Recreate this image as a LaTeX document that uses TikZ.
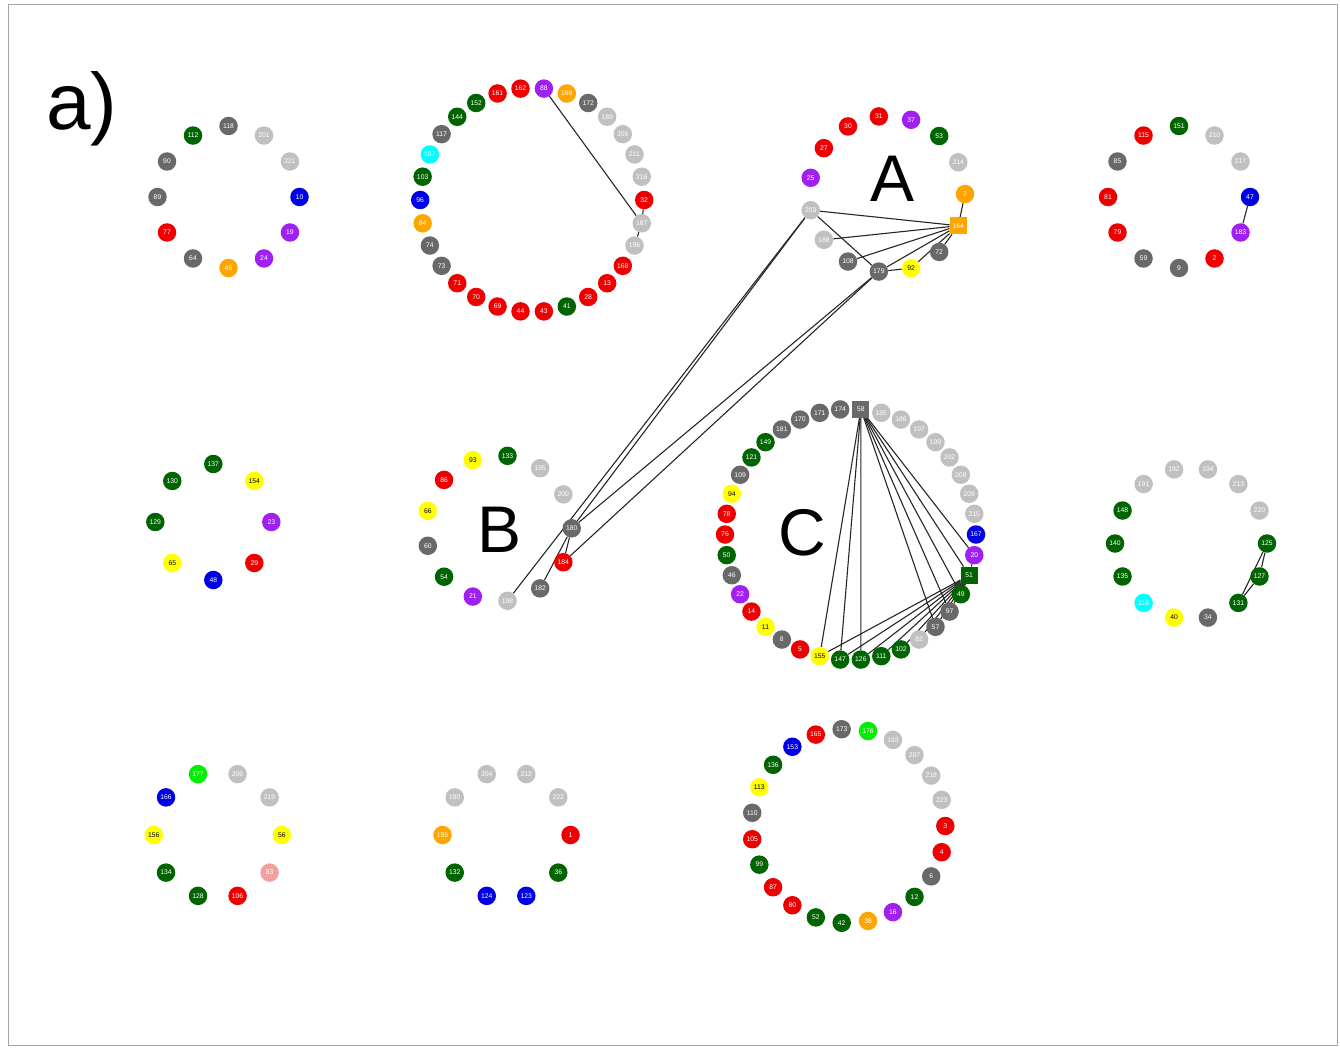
\documentclass[tikz,border=0pt]{standalone}
\usepackage{fontspec}
\setmainfont{Liberation Sans}
\usetikzlibrary{backgrounds}

\definecolor{cdgrey}{RGB}{105,105,105}
\definecolor{clgrey}{RGB}{192,192,192}
\definecolor{cred}{RGB}{238,0,0}
\definecolor{cgreen}{RGB}{0,100,0}
\definecolor{cblue}{RGB}{0,0,230}
\definecolor{cpurple}{RGB}{160,32,240}
\definecolor{corange}{RGB}{255,165,0}
\definecolor{cyellow}{RGB}{255,255,0}
\definecolor{ccyan}{RGB}{0,255,255}
\definecolor{clime}{RGB}{0,238,0}
\definecolor{cpink}{RGB}{242,160,160}

\tikzset{
  vert/.style={circle, minimum size=18.5pt, inner sep=0pt, text=white,
    font=\fontsize{6.8}{7}\selectfont},
  vdgrey/.style={vert, fill=cdgrey},
  vlgrey/.style={vert, fill=clgrey},
  vred/.style={vert, fill=cred},
  vgreen/.style={vert, fill=cgreen},
  vblue/.style={vert, fill=cblue},
  vpurple/.style={vert, fill=cpurple},
  vorange/.style={vert, fill=corange},
  vyellow/.style={vert, fill=cyellow, text=black},
  vcyan/.style={vert, fill=ccyan},
  vlime/.style={vert, fill=clime},
  vpink/.style={vert, fill=cpink},
  sqdgrey/.style={vdgrey, rectangle, minimum size=17pt},
  sqgreen/.style={vgreen, rectangle, minimum size=17pt},
  sqorange/.style={vorange, rectangle, minimum size=17pt},
  link/.style={draw=black!85, line width=1.1pt},
  bigletter/.style={inner sep=0pt, font=\fontsize{66}{66}\selectfont},
}

% nodes evenly spaced clockwise on a ring:
% #1,#2 centre, #3 radius (pt), #4 first angle, #5 angular step, #6 label/style list
\newcommand\ringof[6]{%
  \foreach \lab/\sty [count=\i from 0] in {#6}{%
    \node[\sty] (n\lab) at ([shift={({#4-\i*#5}:#3pt)}]#1,#2) {\lab};
  }%
}

\begin{document}
\begin{tikzpicture}[x=1pt, y=-1pt]
\useasboundingbox (0,0) rectangle (1340,1048);
\draw[gray!70, line width=1pt] (8,5) rectangle (1337,1045);

\node[anchor=base west, inner sep=0pt, font=\fontsize{80}{80}\selectfont] (panel) at (46,130) {a)};

% top row
\ringof{228.5}{197}{71}{90}{30}{118/vdgrey, 201/vlgrey, 221/vlgrey, 10/vblue, 19/vpurple, 24/vpurple, 45/vorange, 64/vdgrey, 77/vred, 89/vdgrey, 90/vdgrey, 112/vgreen}
\ringof{532.2}{200}{112}{96}{12}{162/vred, 88/vpurple, 169/vorange, 172/vdgrey, 189/vlgrey, 205/vlgrey, 211/vlgrey, 216/vlgrey, 32/vred, 187/vlgrey, 196/vlgrey, 168/vred, 13/vred, 28/vred, 41/vgreen, 43/vred, 44/vred, 69/vred, 70/vred, 71/vred, 73/vdgrey, 74/vdgrey, 84/vorange, 96/vblue, 103/vgreen, 107/vcyan, 117/vdgrey, 144/vgreen, 152/vgreen, 161/vred}
\ringof{887}{194}{78}{0}{24}{7/vorange, 164/sqorange, 72/vdgrey, 92/vyellow, 179/vdgrey, 108/vdgrey, 188/vlgrey, 203/vlgrey, 25/vpurple, 27/vred, 30/vred, 31/vred, 37/vpurple, 53/vgreen, 214/vlgrey}
\ringof{1179}{197}{71}{90}{30}{151/vgreen, 210/vlgrey, 217/vlgrey, 47/vblue, 183/vpurple, 2/vred, 9/vdgrey, 59/vdgrey, 79/vred, 81/vred, 85/vdgrey, 115/vred}

% middle row
\ringof{213.3}{522}{58}{90}{45}{137/vgreen, 154/vyellow, 23/vpurple, 29/vred, 48/vblue, 65/vyellow, 129/vgreen, 130/vgreen}
\ringof{498.7}{528.3}{73}{0}{27.6923}{180/vdgrey, 184/vred, 182/vdgrey, 198/vlgrey, 21/vpurple, 54/vgreen, 60/vdgrey, 66/vyellow, 86/vred, 93/vyellow, 133/vgreen, 195/vlgrey, 200/vlgrey}
\ringof{850.5}{534.5}{125.5}{85.263}{9.4737}{58/sqdgrey, 185/vlgrey, 186/vlgrey, 197/vlgrey, 199/vlgrey, 202/vlgrey, 208/vlgrey, 209/vlgrey, 215/vlgrey, 167/vblue, 20/vpurple, 51/sqgreen, 49/vgreen, 97/vdgrey, 57/vdgrey, 82/vlgrey, 102/vgreen, 111/vgreen, 126/vgreen, 147/vgreen, 155/vyellow, 5/vred, 8/vdgrey, 11/vyellow, 14/vred, 22/vpurple, 46/vdgrey, 50/vgreen, 76/vred, 78/vred, 94/vyellow, 109/vdgrey, 121/vgreen, 149/vgreen, 181/vdgrey, 170/vdgrey, 171/vdgrey, 174/vdgrey}
\ringof{1191}{543.5}{76}{102.857}{25.714}{192/vlgrey, 194/vlgrey, 213/vlgrey, 220/vlgrey, 125/vgreen, 127/vgreen, 131/vgreen, 34/vdgrey, 40/vyellow, 116/vcyan, 135/vgreen, 140/vgreen, 148/vgreen, 191/vlgrey}

% bottom row
\ringof{217.8}{835}{64}{108}{36}{177/vlime, 206/vlgrey, 219/vlgrey, 56/vyellow, 83/vpink, 106/vred, 128/vgreen, 134/vgreen, 156/vyellow, 166/vblue}
\ringof{506.5}{835}{64}{108}{36}{204/vlgrey, 212/vlgrey, 222/vlgrey, 1/vred, 36/vgreen, 123/vblue, 124/vblue, 132/vgreen, 159/vorange, 190/vlgrey}
\ringof{848.3}{826}{97}{0}{15.652}{3/vred, 4/vred, 6/vdgrey, 12/vgreen, 16/vpurple, 38/vorange, 42/vgreen, 52/vgreen, 80/vred, 87/vred, 99/vgreen, 105/vred, 110/vdgrey, 113/vyellow, 136/vgreen, 153/vblue, 165/vred, 173/vdgrey, 176/vlime, 193/vlgrey, 207/vlgrey, 218/vlgrey, 223/vlgrey}

% cluster letters
\node[bigletter] (labA) at (892.5,178.5) {A};
\node[bigletter] (labB) at (500,530) {B};
\node[bigletter] (labC) at (802.5,532.5) {C};

\begin{scope}[on background layer]
  % ring of 30
  \draw[link] (n88) -- (n187);
  \draw[link] (n32) -- (n187);
  \draw[link] (n187) -- (n196);
  % top right ring
  \draw[link] (n47) -- (n183);
  % middle right ring
  \draw[link] (n125) -- (n127);
  \draw[link] (n127) -- (n131);
  \draw[link] (n125) -- (n131);
  % cluster A
  \foreach \v in {7,203,188,108,179,92,72} \draw[link] (n164) -- (n\v);
  \draw[link] (n179) -- (n92);
  \draw[link] (n203) -- (n179);
  % A to B
  \draw[link] (n203) -- (n180);
  \draw[link] (n203) -- (n198);
  \draw[link] (n179) -- (n180);
  \draw[link] (n179) -- (n184);
  % cluster B
  \draw[link] (n180) -- (n182);
  \draw[link] (n180) -- (n184);
  % cluster C
  \foreach \v in {155,147,126,57,97,49,51,20} \draw[link] (n58) -- (n\v);
  \foreach \v in {155,147,126,111,102,82,57,97,49,20} \draw[link] (n51) -- (n\v);
\end{scope}
\end{tikzpicture}
\end{document}
